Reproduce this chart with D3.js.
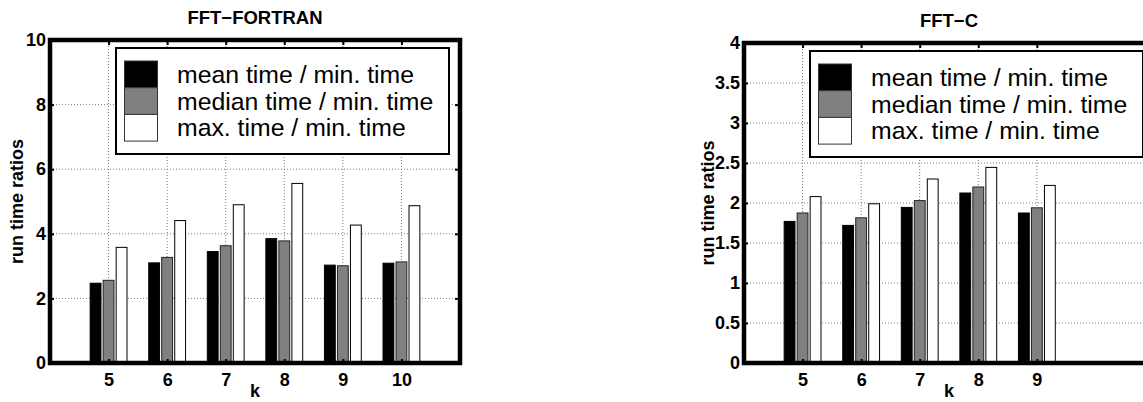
<!DOCTYPE html>
<html>
<head>
<meta charset="utf-8">
<script src="https://cdn.jsdelivr.net/npm/d3@7"></script>
<style>
  body { margin: 0; background: #fff; }
  svg { display: block; font-family: "Liberation Sans", Arial, Helvetica, sans-serif; }
</style>
</head>
<body>
<script>
// values
const seriesNames = ["mean time / min. time", "median time / min. time", "max. time / min. time"];
const seriesFill = ["#000000", "#808080", "#ffffff"];

const fortranK = [5, 6, 7, 8, 9, 10];
const fortranMean = [2.47, 3.10, 3.45, 3.85, 3.03, 3.09];
const fortranMedian = [2.56, 3.27, 3.63, 3.78, 3.01, 3.13];
const fortranMax = [3.58, 4.41, 4.90, 5.56, 4.27, 4.87];
const fortranYTicks = [0, 2, 4, 6, 8, 10];

const cK = [5, 6, 7, 8, 9];
const cMean = [1.77, 1.72, 1.945, 2.125, 1.875];
const cMedian = [1.875, 1.815, 2.03, 2.20, 1.94];
const cMax = [2.08, 1.99, 2.30, 2.445, 2.22];
const cYTicks = [0, 0.5, 1, 1.5, 2, 2.5, 3, 3.5, 4];

const W = 1143, H = 402;
const svg = d3.select("body").append("svg").attr("width", W).attr("height", H);

function barChart({title, k, series, yMax, yTicks, left, top, bottom, labelGap}) {
    const width = 410;
    const x = d3.scaleLinear().domain([4, 11]).range([left, left + width]);
    const y = d3.scaleLinear().domain([0, yMax]).range([bottom, top]);
    const g = svg.append("g");

    // dotted grid
    const grid = g.append("g")
      .attr("stroke", "#7a7a7a")
      .attr("stroke-width", 1)
      .attr("stroke-dasharray", "1,2");
    grid.selectAll(".gy").data(yTicks.filter(t => t > 0 && t < yMax)).join("line")
      .attr("x1", left).attr("x2", left + width)
      .attr("y1", d => y(d)).attr("y2", d => y(d));
    grid.selectAll(".gx").data(k).join("line")
      .attr("x1", d => x(d)).attr("x2", d => x(d))
      .attr("y1", top).attr("y2", bottom);

    // bars
    const offsets = [-0.222, 0, 0.222];
    const bw = 0.185;
    series.forEach((vals, s) => {
        g.append("g").selectAll("rect").data(vals).join("rect")
          .attr("x", (d, i) => x(k[i] + offsets[s] - bw / 2))
          .attr("width", x(4 + bw) - x(4))
          .attr("y", d => y(d))
          .attr("height", d => bottom - y(d))
          .attr("fill", seriesFill[s])
          .attr("stroke", s === 1 ? "#222" : "#000")
          .attr("stroke-width", 1);
    });

    // axes with inward ticks
    const axisFont = sel => sel.selectAll("text")
      .attr("font-size", 18).attr("font-weight", "bold").attr("fill", "#000")
      .attr("font-family", "Liberation Sans, Arial, sans-serif");

    g.append("g").attr("transform", `translate(0,${bottom})`)
      .call(d3.axisBottom(x).tickValues(k).tickSize(-4).tickPadding(10).tickFormat(d3.format("d")))
      .call(a => a.select(".domain").remove())
      .call(axisFont);
    g.append("g").attr("transform", `translate(${left},0)`)
      .call(d3.axisLeft(y).tickValues(yTicks).tickSize(-4).tickPadding(4).tickFormat(d => String(d)))
      .call(a => a.select(".domain").remove())
      .call(axisFont);
    g.append("g").attr("transform", `translate(0,${top})`)
      .call(d3.axisTop(x).tickValues(k).tickSize(-5).tickFormat(""))
      .call(a => a.select(".domain").remove());
    g.append("g").attr("transform", `translate(${left + width},0)`)
      .call(d3.axisRight(y).tickValues(yTicks).tickSize(-5).tickFormat(""))
      .call(a => a.select(".domain").remove());
    g.selectAll(".tick line").attr("stroke", "#000").attr("stroke-width", 2);

    // thick frame
    g.append("rect")
      .attr("x", left).attr("y", top)
      .attr("width", width).attr("height", bottom - top)
      .attr("fill", "none").attr("stroke", "#000").attr("stroke-width", 4.5);

    // legend
    const lx = left + 66, ly = top + 8;
    const lg = g.append("g");
    lg.append("rect").attr("x", lx).attr("y", ly).attr("width", 333).attr("height", 106)
      .attr("fill", "#fff").attr("stroke", "#000").attr("stroke-width", 2);
    seriesNames.forEach((name, s) => {
        lg.append("rect").attr("x", lx + 8.5).attr("y", ly + 13 + s * 26.7)
          .attr("width", 33).attr("height", 26.7)
          .attr("fill", seriesFill[s]).attr("stroke", "#333").attr("stroke-width", 1);
        lg.append("text").attr("x", lx + 61).attr("y", ly + 35 + s * 26.7)
          .attr("font-size", 24.8).attr("fill", "#000").text(name);
    });

    // labels
    g.append("text").attr("x", left + width / 2).attr("y", top - 16)
      .attr("text-anchor", "middle").attr("font-size", 18.5).attr("font-weight", "bold").text(title);
    g.append("text").attr("x", left + width / 2).attr("y", bottom + 34)
      .attr("text-anchor", "middle").attr("font-size", 18).attr("font-weight", "bold").text("k");
    g.append("text")
      .attr("transform", `translate(${left - labelGap},${(top + bottom) / 2}) rotate(-90)`)
      .attr("text-anchor", "middle").attr("font-size", 18).attr("font-weight", "bold").text("run time ratios");
}

barChart({
    title: "FFT\u2212FORTRAN", k: fortranK,
    series: [fortranMean, fortranMedian, fortranMax],
    yMax: 10, yTicks: fortranYTicks, left: 50, top: 40, bottom: 363, labelGap: 27
});
barChart({
    title: "FFT\u2212C", k: cK,
    series: [cMean, cMedian, cMax],
    yMax: 4, yTicks: cYTicks, left: 744, top: 43, bottom: 363, labelGap: 30
});
</script>
</body>
</html>
